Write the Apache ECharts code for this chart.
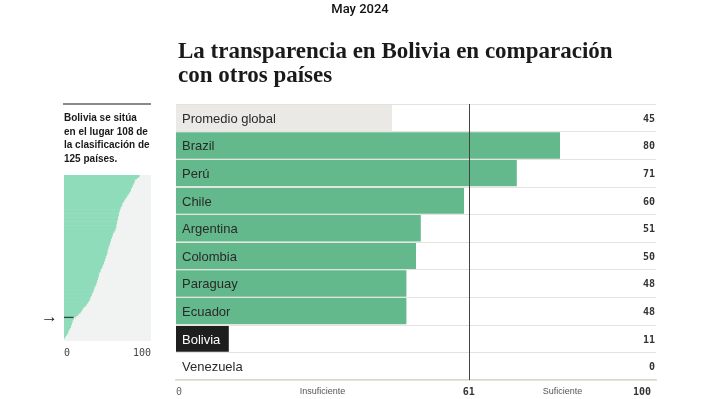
<!DOCTYPE html>
<html>
<head>
<meta charset="utf-8">
<script src="https://cdn.jsdelivr.net/npm/echarts@6/dist/echarts.min.js"></script>
<style>html,body{margin:0;padding:0;background:#fff}#c{width:720px;height:399px}</style>
</head>
<body>
<div id="c"></div>
<script>
const dateText = 'May 2024';
const titleText = 'La transparencia en Bolivia en comparación\ncon otros países';
const noteText = 'Bolivia se sitúa\nen el lugar 108 de\nla clasificación de\n125 países.';
const mainCategories = ['Promedio global','Brazil','Perú','Chile','Argentina','Colombia','Paraguay','Ecuador','Bolivia','Venezuela'];
const mainValues = [45, 80, 71, 60, 51, 50, 48, 48, 11, 0];
const threshold = 61;
const zoneNames = ['Insuficiente', 'Suficiente'];
const boliviaRank = 108;
const globalScores = [
  87, 86, 84, 82, 81,
  81, 80, 79, 79, 78, 77, 77,
  76, 75, 74, 73, 72, 71, 70,
  69, 68, 67, 67, 66, 65, 65, 64,
  64, 63, 63, 63, 62, 62, 62,
  61, 61, 61, 60, 60, 60, 59, 59,
  58, 57, 56, 56, 55,
  55, 54, 54, 53, 53, 52, 52, 51,
  51, 50, 50, 50, 49, 49,
  48, 48, 47, 47, 46, 46, 45,
  44, 44, 43, 42, 42, 41,
  40, 40, 40, 39, 39, 38, 38,
  37, 37, 36, 35, 35, 34, 34, 33,
  32, 32, 31, 30, 30, 29, 28,
  27, 26, 25, 23, 22,
  21, 20, 19, 17, 16, 14,
  11,
  11, 10, 10, 9, 9, 8, 8, 7,
  6, 5, 5, 4, 3, 2,
  1, 0, 0
];
const scaleMin = 0, scaleMax = 100;

const rankCats = globalScores.map((v, i) => String(i + 1));
const zoneCenters = [(scaleMin + threshold) / 2, (threshold + scaleMax) / 2];

const chart = echarts.init(document.getElementById('c'), null, {renderer: 'canvas'});
const sans = '"Liberation Sans", Arial, sans-serif';
const mono = '"DejaVu Sans Mono", monospace';

chart.setOption({
  backgroundColor: '#ffffff',
  animation: false,
  title: [
    {text: dateText, left: 'center', top: 0, padding: [3, 0, 0, 0], textStyle: {fontFamily: 'Roboto', fontWeight: 500, fontSize: 13, color: '#111'}},
    {text: titleText, left: 173, top: 35, textStyle: {fontFamily: '"Liberation Serif", serif', fontWeight: 'bold', fontSize: 23, lineHeight: 24, color: '#1a1a1a'}},
    {text: noteText, left: 59, top: 107, textStyle: {fontFamily: sans, fontWeight: 'bold', fontSize: 10, lineHeight: 13.4, color: '#1a1a1a'}}
  ],
  graphic: [
    {type: 'line', shape: {x1: 63, y1: 104, x2: 151, y2: 104}, style: {stroke: '#8a8a8a', lineWidth: 2}}
  ],
  grid: [
    {left: 64, top: 175, width: 87, height: 166, show: true, backgroundColor: '#f1f2f2', borderWidth: 0},
    {left: 176, top: 104, right: 64, bottom: 19}
  ],
  xAxis: [
    {type: 'value', gridIndex: 0, min: scaleMin, max: scaleMax,
     axisLine: {show: false}, axisTick: {show: false}, splitLine: {show: false},
     axisLabel: {customValues: [scaleMin, scaleMax], fontFamily: mono, fontSize: 10, color: '#444', margin: 7, alignMinLabel: 'left', alignMaxLabel: 'right'}},
    {type: 'value', gridIndex: 1, min: scaleMin, max: scaleMax,
     axisLine: {show: true, lineStyle: {color: '#dcd8cf', width: 2}}, axisTick: {show: false}, splitLine: {show: false},
     axisLabel: {
       customValues: [scaleMin, zoneCenters[0], threshold, zoneCenters[1], scaleMax],
       margin: 7, alignMinLabel: 'left', alignMaxLabel: 'right',
       formatter: function (v) {
         if (v === zoneCenters[0] || v === zoneCenters[1]) return '{z|' + zoneNames[v === zoneCenters[0] ? 0 : 1] + '}';
         if (v === scaleMin) return '{l|' + v + '}';
         if (v === scaleMax) return '{m|' + v + '}';
         return '{n|' + v + '}';
       },
       rich: {
         z: {fontFamily: sans, fontSize: 9, color: '#555'},
         l: {fontFamily: mono, fontSize: 10, color: '#666'},
         n: {fontFamily: mono, fontSize: 10, fontWeight: 'bold', color: '#333'},
         m: {fontFamily: mono, fontSize: 10, fontWeight: 'bold', color: '#333', padding: [0, 5, 0, 0]}
       }
     }}
  ],
  yAxis: [
    {type: 'category', gridIndex: 0, data: rankCats, inverse: true,
     axisLine: {show: false}, axisTick: {show: false}, splitLine: {show: false},
     axisLabel: {interval: function (idx) { return idx === boliviaRank - 1; }, formatter: function () { return '→'; }, fontSize: 17, color: '#222', margin: 6}},
    {type: 'category', gridIndex: 1, data: mainCategories, inverse: true, z: 5,
     axisLine: {show: false}, axisTick: {show: false},
     splitLine: {show: true, lineStyle: {color: '#e6e3dc', width: 1}},
     axisLabel: {inside: true, margin: 6,
       formatter: function (v) { return (v === 'Bolivia' ? '{w|' : '{d|') + v + '}'; },
       rich: {
         d: {fontFamily: sans, fontSize: 13, color: '#2a2a2a', padding: [3, 0, 0, 0]},
         w: {fontFamily: sans, fontSize: 13, color: '#ffffff', padding: [3, 0, 0, 0]}
       }}},
    {type: 'category', gridIndex: 1, data: mainValues.map(String), inverse: true, position: 'right', z: 5,
     axisLine: {show: false}, axisTick: {show: false}, splitLine: {show: false},
     axisLabel: {inside: true, margin: 1,
       formatter: function (v) { return '{v|' + v + '}'; },
       rich: {v: {fontFamily: mono, fontSize: 10, fontWeight: 'bold', color: '#333', padding: [3, 0, 0, 0]}}}}
  ],
  series: [
    {type: 'bar', xAxisIndex: 0, yAxisIndex: 0, barWidth: 2, silent: true,
     data: globalScores.map((v, i) => ({value: v, itemStyle: {color: i === boliviaRank - 1 ? '#34443c' : '#8fdcbb'}}))},
    {type: 'bar', xAxisIndex: 1, yAxisIndex: 1, barCategoryGap: '4%', silent: true,
     data: mainValues.map((v, i) => {
       const c = mainCategories[i];
       const col = c === 'Promedio global' ? '#ebe9e5' : (c === 'Bolivia' ? '#1e1e1e' : '#63b98b');
       return {value: v, itemStyle: {color: col}};
     }),
     markLine: {silent: true, symbol: ['none', 'none'], label: {show: false},
       lineStyle: {color: '#444', width: 1, type: 'solid'},
       data: [{xAxis: threshold}]}}
  ]
});
</script>
</body>
</html>
